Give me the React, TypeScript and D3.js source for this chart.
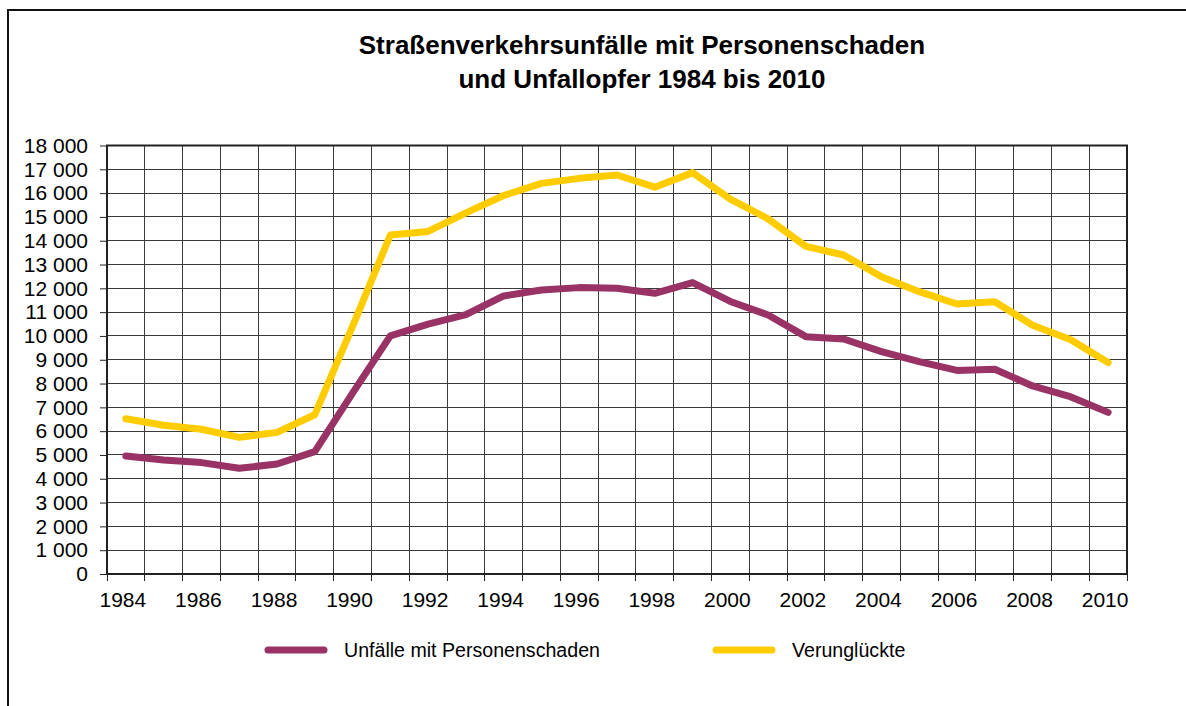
import { useEffect, useRef } from 'react';
import * as d3 from 'd3';

const years = [
  1984, 1985, 1986, 1987, 1988, 1989, 1990, 1991, 1992, 1993, 1994, 1995, 1996, 1997,
  1998, 1999, 2000, 2001, 2002, 2003, 2004, 2005, 2006, 2007, 2008, 2009, 2010,
];

// Unfälle mit Personenschaden
const unfaelle = [
  4960, 4790, 4680, 4440, 4620, 5140, 7600, 10000, 10500, 10900, 11680, 11930, 12030, 12000,
  11790, 12240, 11450, 10880, 9970, 9870, 9340, 8920, 8550, 8600, 7900, 7450, 6790,
];

// Verunglückte
const verunglueckte = [
  6520, 6250, 6080, 5740, 5950, 6690, 10400, 14240, 14390, 15170, 15900, 16410, 16620, 16760,
  16250, 16860, 15750, 14920, 13760, 13400, 12490, 11860, 11340, 11440, 10450, 9850, 8880,
];

const yTicks = d3.range(0, 18001, 1000);
const xLabelYears = years.filter(y => y % 2 === 0);

const seriesNames = ['Unfälle mit Personenschaden', 'Verunglückte'];
const seriesColors = ['#993366', '#FFCC00'];

const titleLines = [
  'Straßenverkehrsunfälle mit Personenschaden',
  'und Unfallopfer 1984 bis 2010',
];

export default function App() {
  const svgRef = useRef<SVGSVGElement>(null);
  const width = 1186;
  const height = 706;
  const plot = { left: 107, right: 1127, top: 145.5, bottom: 574 };

  useEffect(() => {
    if (!svgRef.current) return;
    const svg = d3.select(svgRef.current);
    svg.selectAll('*').remove();

    const font = 'Arial, "Liberation Sans", sans-serif';

    const x = d3.scaleBand<number>()
      .domain(years)
      .range([plot.left, plot.right])
      .padding(0);
    const y = d3.scaleLinear()
      .domain([0, 18000])
      .range([plot.bottom, plot.top]);

    // outer frame
    svg.append('path')
      .attr('d', `M8,${height + 5} L8,10 L${width + 5},10`)
      .attr('fill', 'none')
      .attr('stroke', '#111')
      .attr('stroke-width', 2);

    // title
    svg.append('g')
      .selectAll('text')
      .data(titleLines)
      .join('text')
      .attr('x', 642)
      .attr('y', (_, i) => 54 + i * 34)
      .attr('text-anchor', 'middle')
      .style('font-family', font)
      .style('font-size', '26px')
      .style('font-weight', 'bold')
      .style('fill', '#000')
      .text(d => d);

    // grid
    const grid = svg.append('g').attr('shape-rendering', 'crispEdges');
    grid.selectAll('.hgrid')
      .data(yTicks)
      .join('line')
      .attr('x1', plot.left)
      .attr('x2', plot.right)
      .attr('y1', d => y(d))
      .attr('y2', d => y(d))
      .attr('stroke', '#3a3a3a')
      .attr('stroke-width', 1);
    grid.selectAll('.vgrid')
      .data(years.slice(1))
      .join('line')
      .attr('x1', d => x(d) ?? 0)
      .attr('x2', d => x(d) ?? 0)
      .attr('y1', plot.top)
      .attr('y2', plot.bottom)
      .attr('stroke', '#3a3a3a')
      .attr('stroke-width', 1);

    // y axis
    const yAxis = svg.append('g')
      .attr('transform', `translate(${plot.left},0)`)
      .call(
        d3.axisLeft(y)
          .tickValues(yTicks)
          .tickSize(7)
          .tickPadding(12)
          .tickFormat(d => d3.format(',')(d as number).replace(/,/g, ' '))
      );
    yAxis.select('.domain').remove();
    yAxis.selectAll('line').attr('stroke', '#222');
    yAxis.selectAll('text')
      .style('font-family', font)
      .style('font-size', '21px')
      .style('fill', '#000');

    // x axis
    const xAxis = svg.append('g')
      .attr('transform', `translate(0,${plot.bottom})`);
    xAxis.selectAll('line')
      .data(years.concat([2011]))
      .join('line')
      .attr('x1', d => (d === 2011 ? plot.right : x(d) ?? 0))
      .attr('x2', d => (d === 2011 ? plot.right : x(d) ?? 0))
      .attr('y1', 0)
      .attr('y2', 7)
      .attr('stroke', '#222')
      .attr('shape-rendering', 'crispEdges');
    xAxis.selectAll('text')
      .data(xLabelYears)
      .join('text')
      .attr('x', d => (x(d) ?? 0) + x.bandwidth() / 2 - 3)
      .attr('y', 33)
      .attr('text-anchor', 'middle')
      .style('font-family', font)
      .style('font-size', '21px')
      .style('fill', '#000')
      .text(d => String(d));

    // plot frame
    svg.append('rect')
      .attr('x', plot.left)
      .attr('y', plot.top)
      .attr('width', plot.right - plot.left)
      .attr('height', plot.bottom - plot.top)
      .attr('fill', 'none')
      .attr('stroke', '#222')
      .attr('stroke-width', 2);

    // lines
    const line = d3.line<number>()
      .x((_, i) => (x(years[i]) ?? 0) + x.bandwidth() / 2)
      .y(d => y(d));

    [unfaelle, verunglueckte].forEach((series, i) => {
      svg.append('path')
        .datum(series)
        .attr('fill', 'none')
        .attr('stroke', seriesColors[i])
        .attr('stroke-width', 7)
        .attr('stroke-linejoin', 'round')
        .attr('stroke-linecap', 'round')
        .attr('d', line);
    });

    // legend
    const legendX = [268, 716];
    const legend = svg.append('g');
    seriesNames.forEach((name, i) => {
      legend.append('line')
        .attr('x1', legendX[i])
        .attr('x2', legendX[i] + 56)
        .attr('y1', 650)
        .attr('y2', 650)
        .attr('stroke', seriesColors[i])
        .attr('stroke-width', 7)
        .attr('stroke-linecap', 'round');
      legend.append('text')
        .attr('x', legendX[i] + 76)
        .attr('y', 657)
        .style('font-family', font)
        .style('font-size', '19.6px')
        .style('fill', '#000')
        .text(name);
    });
  }, []);

  return (
    <svg
      ref={svgRef}
      width={width}
      height={height}
      viewBox={`0 0 ${width} ${height}`}
      style={{ position: 'absolute', left: 0, top: 0, background: '#fff' }}
    />
  );
}
